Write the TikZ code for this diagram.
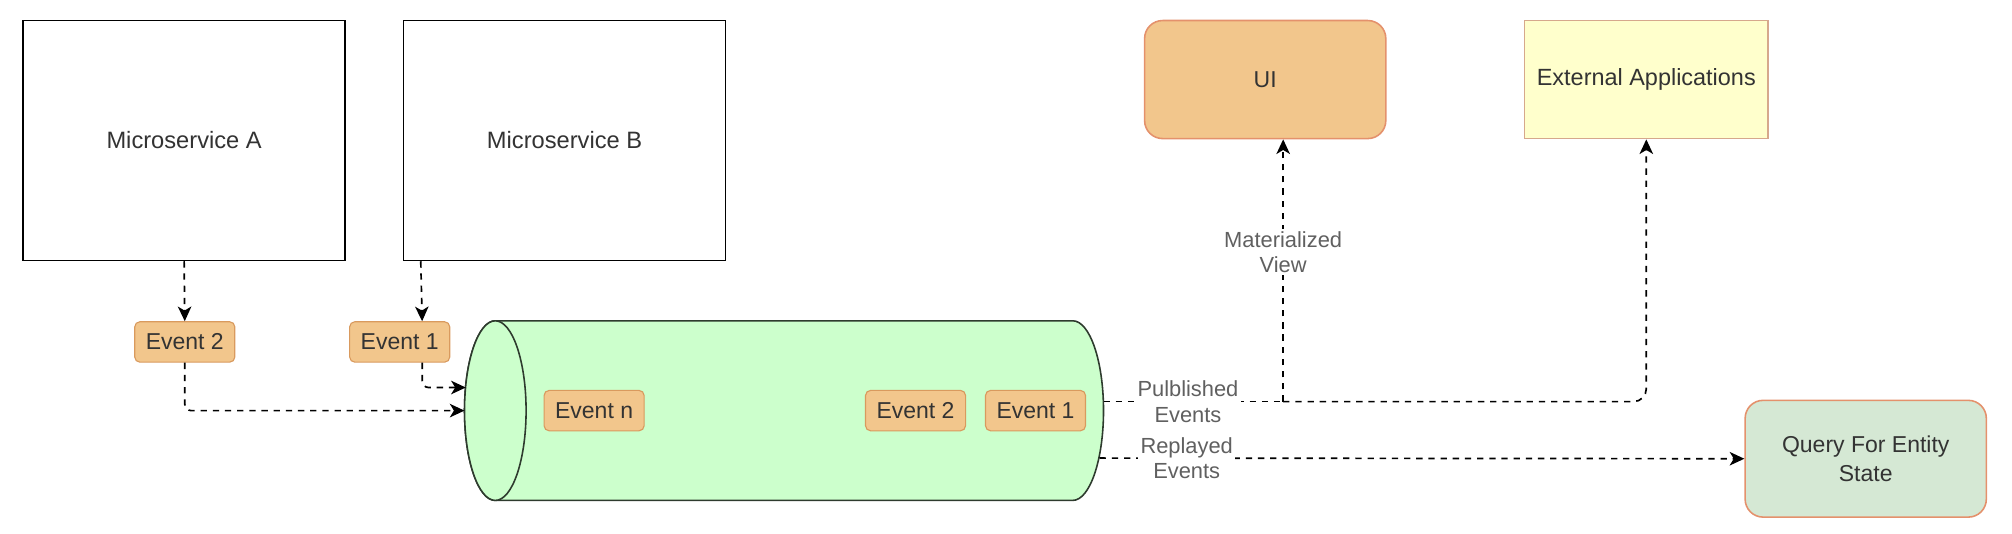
\documentclass[tikz,border=0pt]{standalone}
\usepackage{fontspec}
\setmainfont{Liberation Sans}
\usetikzlibrary{arrows.meta}

\begin{document}
\begin{tikzpicture}[x=0.02cm, y=0.02cm,
  every node/.style={font=\fontsize{10.2}{12.2}\selectfont, text=txtcol},
  service/.style={draw=black, line width=0.7pt, fill=white, minimum width=5.02cm, minimum height=3.74cm, inner sep=0pt, font=\fontsize{10.5}{12.5}\selectfont},
  event/.style={draw=evline, fill=evfill, line width=0.5pt, rounded corners=0.08cm, minimum width=1.56cm, minimum height=0.63cm, inner sep=0pt},
  ui/.style={draw=uiline, fill=evfill, line width=0.7pt, rounded corners=0.28cm, minimum width=3.76cm, minimum height=1.84cm},
  extapp/.style={draw=extline, fill=extfill, line width=0.7pt, minimum width=3.8cm, minimum height=1.84cm, inner sep=0pt, font=\fontsize{10.4}{12.4}\selectfont},
  query/.style={draw=uiline, fill=qfill, line width=0.7pt, rounded corners=0.28cm, minimum width=3.76cm, minimum height=1.82cm, align=center, font=\fontsize{10.2}{12.5}\selectfont},
  link/.style={draw=black, line width=0.75pt, dash pattern=on 2.8pt off 2.6pt, -{Stealth[length=6.5pt, width=6pt, inset=1.8pt]}},
  lbl/.style={fill=white, align=center, text=lblcol, inner sep=1pt, font=\fontsize{9.7}{11.3}\selectfont}]
\definecolor{txtcol}{HTML}{333333}
\definecolor{lblcol}{HTML}{606060}
\definecolor{evfill}{HTML}{F2C68C}
\definecolor{evline}{HTML}{D99A5E}
\definecolor{uiline}{HTML}{E4916C}
\definecolor{extfill}{HTML}{FFFFCC}
\definecolor{extline}{HTML}{D6A88C}
\definecolor{qfill}{HTML}{D5E8D4}
\definecolor{cylfill}{HTML}{CCFFCC}
\definecolor{cylline}{HTML}{2E3B2E}
\useasboundingbox (0,0) rectangle (1568,416);

% producers
\node[service] (msa) at (143.5,306.5) {Microservice A};
\node[service] (msb) at (440,306.5) {Microservice B};
\node[event] (ev2) at (144,149.5) {Event 2};
\node[event] (ev1) at (311.5,149.5) {Event 1};

% event store
\filldraw[fill=cylfill, draw=cylline, line width=0.7pt] (386,166) -- (836,166)
  arc[start angle=90, end angle=-90, x radius=0.48cm, y radius=1.4cm] -- (386,26)
  arc[start angle=270, end angle=90, x radius=0.48cm, y radius=1.4cm] -- cycle;
\filldraw[fill=cylfill, draw=cylline, line width=0.7pt] (386,96) ellipse[x radius=0.48cm, y radius=1.4cm];
\node[event] (logevn) at (463,96) {Event n};
\node[event] (logev2) at (713.5,96) {Event 2};
\node[event] (logev1) at (807,96) {Event 1};
\coordinate (login1) at (363,114);
\coordinate (login2) at (362,96);
\coordinate (pubout) at (860,103);
\coordinate (pubjoin) at (1000,103);
\coordinate (repout) at (857,59);

% consumers
\node[ui] (ui) at (986,354) {UI};
\node[extapp] (ext) at (1283,354) {External Applications};
\node[query] (query) at (1454,58.5) {Query For Entity\\State};

% connectors
\draw[link] (msa.south) -- (ev2.north);
\draw[link] ([xshift=0.28cm]msb.south west) -- ([xshift=0.35cm]ev1.north);
\draw[link, rounded corners=0.1cm] (ev2.south) |- (login2);
\draw[link, rounded corners=0.1cm] ([xshift=0.35cm]ev1.south) |- (login1);
\draw[link, -] (pubout) -- node[lbl, pos=0.47] {Pulblished\\Events} (pubjoin);
\draw[link, rounded corners=0.2cm] (pubjoin) -| (ext.south);
\draw[link] (pubjoin) -- node[lbl, pos=0.57] {Materialized\\View} (pubjoin |- ui.south);
\draw[link] (repout) -- node[lbl, pos=0.135] {Replayed\\Events} (query.west);
\end{tikzpicture}
\end{document}
